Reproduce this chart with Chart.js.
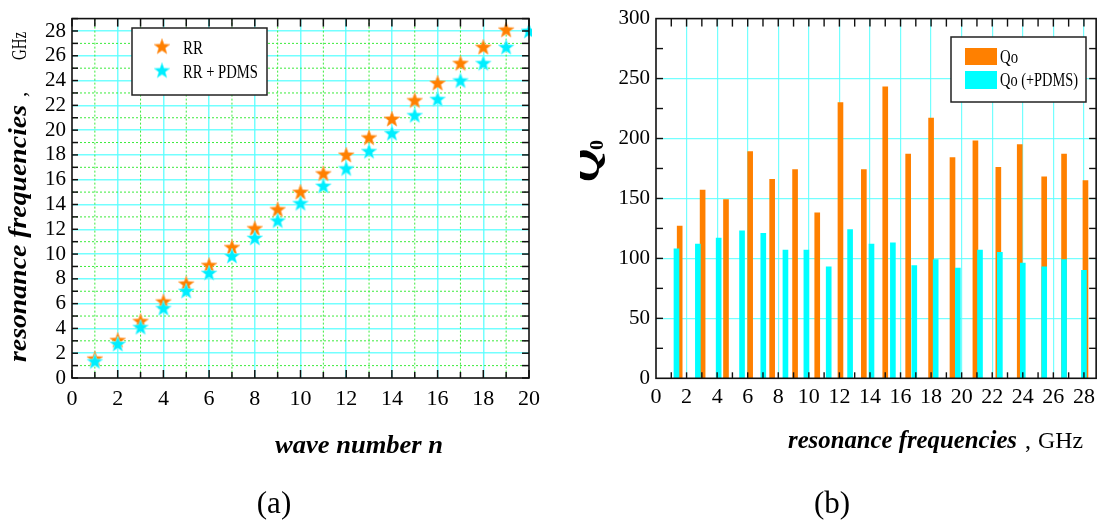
<!DOCTYPE html>
<html><head><meta charset="utf-8">
<script src="https://cdn.jsdelivr.net/npm/chart.js@4"></script>
<style>
html,body{margin:0;padding:0;background:#fff;}
body{width:1101px;height:527px;overflow:hidden;position:relative;}
#ca{position:absolute;left:0;top:0;}
#cb{position:absolute;left:580px;top:0;}
</style></head><body>
<canvas id="ca" width="580" height="527"></canvas>
<canvas id="cb" width="521" height="527"></canvas>
<script>
// ---------- data ----------
const waveNumbers = [1,2,3,4,5,6,7,8,9,10,11,12,13,14,15,16,17,18,19,20];
const rrFreq   = [1.55,3.05,4.58,6.16,7.6,9.1,10.55,12.07,13.6,15.0,16.5,18.0,19.4,20.9,22.4,23.8,25.4,26.7,28.1];
const pdmsFreq = [1.34,2.74,4.1,5.63,7.02,8.47,9.84,11.3,12.7,14.1,15.5,16.9,18.3,19.75,21.2,22.5,24.0,25.4,26.7,28.0];
const qoRR   = [127,157,149,189,166,174,138,230,174,243,187,217,184,198,176,195,168,187,165];
const qoPDMS = [108,112,117,123,121,107,107,93,124,112,113,94,99,92,107,105,96,93,99,90];
const xTicksA = [0,2,4,6,8,10,12,14,16,18,20];
const yTicksA = [0,2,4,6,8,10,12,14,16,18,20,22,24,26,28];
const xTicksB = [0,2,4,6,8,10,12,14,16,18,20,22,24,26,28];
const yTicksB = [0,50,100,150,200,250,300];
const legendA = ['RR','RR + PDMS'];
const legendB = ['Qo','Qo (+PDMS)'];

// ---------- styles ----------
const ORANGE = 'rgb(255,128,0)';
const CYAN = 'rgb(0,255,255)';
const GRIDC = 'rgba(90,255,255,0.85)';
const MINORC = 'rgb(60,235,60)';
const SERIF = '"Liberation Serif", "Times New Roman", serif';

function makeStar(fill, stroke){
  const c = document.createElement('canvas'); c.width = 18; c.height = 18;
  const g = c.getContext('2d');
  g.beginPath();
  for (let i = 0; i < 10; i++){
    const r = i % 2 ? 3.5 : 8.2;
    const a = -Math.PI/2 + i*Math.PI/5;
    g.lineTo(9 + r*Math.cos(a), 9.5 + r*Math.sin(a));
  }
  g.closePath(); g.fillStyle = fill; g.fill();
  g.strokeStyle = stroke; g.lineWidth = 0.7; g.stroke();
  return c;
}
const starO = makeStar(ORANGE, 'rgb(255,170,90)');
const starC = makeStar('rgb(0,238,255)', 'rgb(120,250,255)');

function fitText(ctx, text, x, y, font, w, rot){
  ctx.save();
  ctx.font = font;
  const nat = ctx.measureText(text).width;
  ctx.translate(x, y);
  if (rot) ctx.rotate(rot);
  if (w) ctx.scale(w / nat, 1);
  ctx.textAlign = 'left'; ctx.textBaseline = 'alphabetic';
  ctx.fillStyle = '#000';
  ctx.fillText(text, 0, 0);
  ctx.restore();
}
function line(ctx, x1, y1, x2, y2){ ctx.beginPath(); ctx.moveTo(x1,y1); ctx.lineTo(x2,y2); ctx.stroke(); }

function gridColor(min, max){
  return c => (c.tick && (c.tick.value <= min || c.tick.value >= max)) ? 'rgba(0,0,0,0)' : GRIDC;
}
function fixTicks(arr){ return s => { s.ticks = arr.map(v => ({value: v})); }; }

// ---------- chart (a) ----------
const decorA = {
  id: 'decorA',
  beforeDatasetsDraw(chart){
    const {ctx, chartArea: a, scales: {x, y}} = chart;
    ctx.save();
    ctx.strokeStyle = MINORC; ctx.lineWidth = 1; ctx.setLineDash([2,2]);
    for (let v = x.min + 1; v < x.max; v += 2){ const p = x.getPixelForValue(v); line(ctx, p, a.top, p, a.bottom); }
    for (let v = y.min + 1; v < y.max; v += 2){ const p = y.getPixelForValue(v); line(ctx, a.left, p, a.right, p); }
    ctx.restore();
  },
  afterDraw(chart){
    const {ctx, chartArea: a, scales: {x, y}} = chart;
    ctx.save();
    ctx.strokeStyle = '#111'; ctx.lineWidth = 1.5;
    for (let v = x.min; v <= x.max; v++){
      const p = x.getPixelForValue(v), L = v % 2 ? 6 : 8;
      line(ctx, p, a.bottom, p, a.bottom - L);
      line(ctx, p, a.top, p, a.top + 8);
    }
    for (let v = y.min; v <= y.max; v++){
      const p = y.getPixelForValue(v);
      line(ctx, a.right, p, a.right - 7, p);
      line(ctx, a.left, p, a.left + 6, p);
    }
    ctx.lineWidth = 1.6;
    ctx.strokeRect(a.left, a.top, a.right - a.left, a.bottom - a.top);
    // legend
    ctx.fillStyle = '#fff'; ctx.fillRect(132, 28, 135, 67);
    ctx.strokeStyle = '#222'; ctx.lineWidth = 1.5; ctx.strokeRect(132, 28, 135, 67);
    ctx.drawImage(starO, 162 - 9, 47 - 9.5);
    ctx.drawImage(starC, 162 - 9, 71 - 9.5);
    ctx.restore();
    ctx.save(); ctx.fillStyle = '#222';
    fitText(ctx, legendA[0], 183, 54, '19px ' + SERIF, 20);
    fitText(ctx, legendA[1], 183, 78, '19px ' + SERIF, 75);
    // axis titles
    fitText(ctx, 'wave number n', 275, 453, 'bold italic 26px ' + SERIF, 168);
    fitText(ctx, 'resonance frequencies', 26, 362, 'bold italic 25px ' + SERIF, 257, -Math.PI/2);
    fitText(ctx, ',', 26, 97, '21px ' + SERIF, 0, -Math.PI/2);
    fitText(ctx, 'GHz', 26, 60, '21px ' + SERIF, 28, -Math.PI/2);
    // caption
    ctx.font = '31px ' + SERIF; ctx.textAlign = 'center'; ctx.fillStyle = '#000';
    ctx.fillText('(a)', 274, 513);
    ctx.restore();
  }
};

new Chart(document.getElementById('ca'), {
  type: 'scatter',
  data: {
    datasets: [
      { label: legendA[1], data: waveNumbers.map((n, i) => ({x: n, y: pdmsFreq[i]})),
        pointStyle: starC, pointRadius: 8, order: 0, clip: 3 },
      { label: legendA[0], data: rrFreq.map((f, i) => ({x: waveNumbers[i], y: f})),
        pointStyle: starO, pointRadius: 8, order: 1, clip: 3 }
    ]
  },
  options: {
    responsive: false, animation: false,
    layout: { padding: { left: 0, top: 10.5, right: 51, bottom: 0 } },
    plugins: { legend: { display: false }, tooltip: { enabled: false } },
    scales: {
      x: { type: 'linear', min: 0, max: 20,
        afterBuildTicks: fixTicks(xTicksA),
        afterFit: s => { s.height = 149; },
        ticks: { color: '#000', font: { family: SERIF, size: 22 }, padding: 8, maxRotation: 0, autoSkip: false },
        grid: { color: gridColor(0, 20), lineWidth: 1.5, drawTicks: false },
        border: { display: false } },
      y: { type: 'linear', min: 0, max: 29,
        afterBuildTicks: fixTicks(yTicksA),
        afterFit: s => { s.width = 72; },
        ticks: { color: '#000', font: { family: SERIF, size: 21 }, padding: 6, autoSkip: false },
        grid: { color: gridColor(0, 29), lineWidth: 1.5, drawTicks: false },
        border: { display: false } }
    }
  },
  plugins: [decorA]
});

// ---------- chart (b) ----------
const decorB = {
  id: 'decorB',
  afterDraw(chart){
    const {ctx, chartArea: a, scales: {x, y}} = chart;
    ctx.save();
    ctx.strokeStyle = '#111'; ctx.lineWidth = 1.4;
    for (let v = 1; v <= Math.floor(x.max); v++){
      const p = x.getPixelForValue(v);
      line(ctx, p, a.bottom, p, a.bottom - 6);
      line(ctx, p, a.top, p, a.top + 8);
    }
    for (let v = 25; v < y.max; v += 25){
      const p = y.getPixelForValue(v);
      line(ctx, a.right, p, a.right - 7, p);
      line(ctx, a.left, p, a.left + 7, p);
    }
    ctx.lineWidth = 1.6;
    ctx.strokeRect(a.left, a.top, a.right - a.left, a.bottom - a.top);
    // legend
    ctx.fillStyle = '#fff'; ctx.fillRect(371, 37, 135, 65);
    ctx.strokeStyle = '#222'; ctx.lineWidth = 1.5; ctx.strokeRect(371, 37, 135, 65);
    ctx.fillStyle = ORANGE; ctx.fillRect(385, 48, 32, 17);
    ctx.fillStyle = CYAN; ctx.fillRect(385, 71, 32, 18);
    ctx.restore();
    ctx.save(); ctx.fillStyle = '#222';
    fitText(ctx, legendB[0], 420, 63, '19px ' + SERIF, 18);
    fitText(ctx, legendB[1], 420, 86, '19px ' + SERIF, 78);
    // axis titles
    fitText(ctx, 'resonance frequencies', 208, 448, 'bold italic 26px ' + SERIF, 229);
    fitText(ctx, ',', 445, 448, '24px ' + SERIF, 0);
    fitText(ctx, 'GHz', 458, 448, '24px ' + SERIF, 45);
    fitText(ctx, 'Q', 19, 182, 'bold italic 40px ' + SERIF, 33, -Math.PI/2);
    fitText(ctx, '0', 23, 150, 'bold 18px ' + SERIF, 10, -Math.PI/2);
    ctx.font = '31px ' + SERIF; ctx.textAlign = 'center'; ctx.fillStyle = '#000';
    ctx.fillText('(b)', 252, 513);
    ctx.restore();
  }
};

new Chart(document.getElementById('cb'), {
  type: 'bar',
  data: {
    datasets: [
      { label: legendB[1], data: pdmsFreq.map((f, i) => ({x: f, y: qoPDMS[i]})),
        backgroundColor: CYAN, barThickness: 5, grouped: false, order: 0 },
      { label: legendB[0], data: rrFreq.map((f, i) => ({x: f, y: qoRR[i]})),
        backgroundColor: ORANGE, barThickness: 5, grouped: false, order: 1 }
    ]
  },
  options: {
    responsive: false, animation: false,
    layout: { padding: { left: 0, top: 18.3, right: 2.7, bottom: 0 } },
    plugins: { legend: { display: false }, tooltip: { enabled: false } },
    scales: {
      x: { type: 'linear', min: 0, max: 28.8, offset: false,
        afterBuildTicks: fixTicks(xTicksB),
        afterFit: s => { s.height = 148.7; },
        ticks: { color: '#000', font: { family: SERIF, size: 22 }, padding: 6, maxRotation: 0, autoSkip: false },
        grid: { color: gridColor(0, 28.8), lineWidth: 1.2, drawTicks: false, offset: false },
        border: { display: false } },
      y: { type: 'linear', min: 0, max: 300,
        afterBuildTicks: fixTicks(yTicksB),
        afterFit: s => { s.width = 76; },
        ticks: { color: '#000', font: { family: SERIF, size: 21 }, padding: 6, autoSkip: false },
        grid: { color: gridColor(0, 300), lineWidth: 1.2, drawTicks: false },
        border: { display: false } }
    }
  },
  plugins: [decorB]
});
</script>
</body></html>
